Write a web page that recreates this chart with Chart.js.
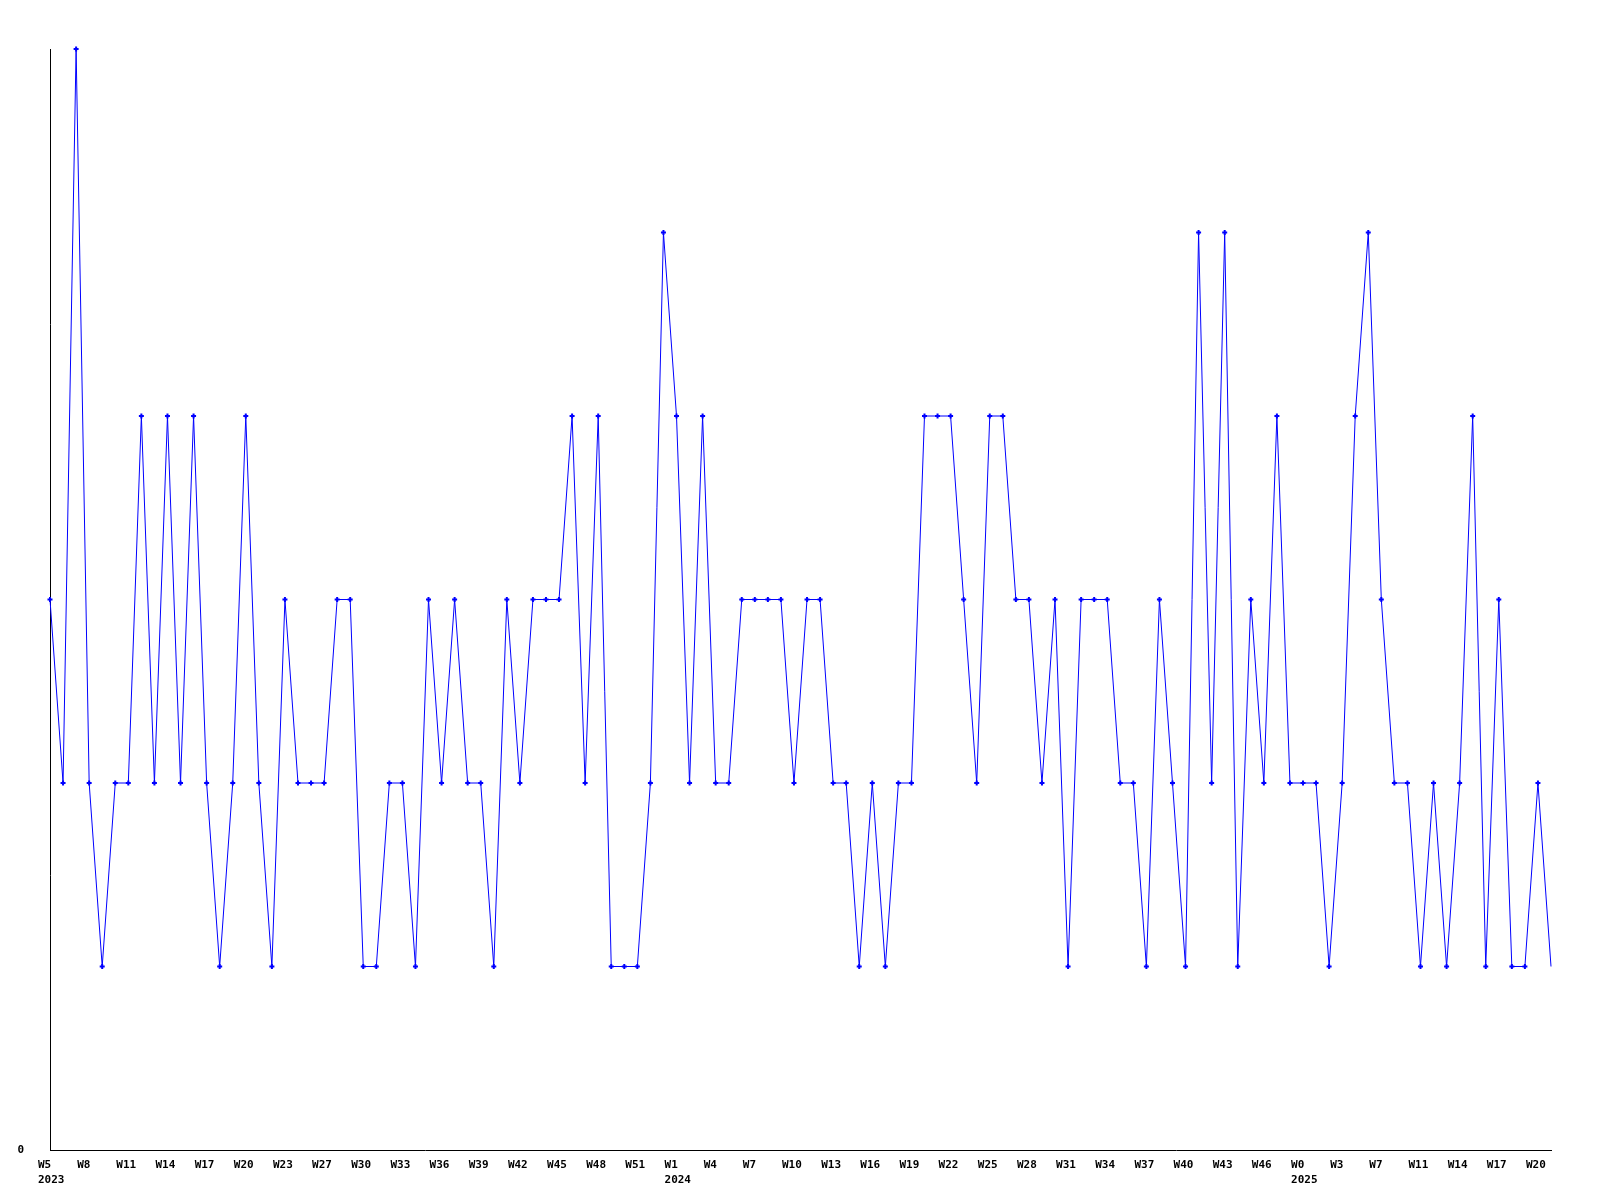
<!DOCTYPE html>
<html>
<head>
<meta charset="utf-8">
<title>Weekly count</title>
<script src="https://cdn.jsdelivr.net/npm/chart.js@4.4.0/dist/chart.umd.min.js"></script>
<style>
  html, body { margin: 0; padding: 0; background: #fff; }
  canvas { display: block; }
</style>
</head>
<body>
<canvas id="weekChart" width="1600" height="1200"></canvas>
<script>
// one value per week, 2023 W5 .. 2025 W21
var weekValues = [
  3, 2, 6, 2, 1, 2, 2, 4, 2, 4, 2, 4, 2, 1, 2, 4, 2, 1, 3, 2,
  2, 2, 3, 3, 1, 1, 2, 2, 1, 3, 2, 3, 2, 2, 1, 3, 2, 3, 3, 3,
  4, 2, 4, 1, 1, 1, 2, 5, 4, 2, 4, 2, 2, 3, 3, 3, 3, 2, 3, 3,
  2, 2, 1, 2, 1, 2, 2, 4, 4, 4, 3, 2, 4, 4, 3, 3, 2, 3, 1, 3,
  3, 3, 2, 2, 1, 3, 2, 1, 5, 2, 5, 1, 3, 2, 4, 2, 2, 2, 1, 2,
  4, 5, 3, 2, 2, 1, 2, 1, 2, 4, 1, 3, 1, 1, 2, 1
];

// labels shown every third week, as printed on the axis
var tickLabels = [
  'W5', 'W8', 'W11', 'W14', 'W17', 'W20', 'W23', 'W27', 'W30', 'W33',
  'W36', 'W39', 'W42', 'W45', 'W48', 'W51', 'W1', 'W4', 'W7', 'W10',
  'W13', 'W16', 'W19', 'W22', 'W25', 'W28', 'W31', 'W34', 'W37', 'W40',
  'W43', 'W46', 'W0', 'W3', 'W7', 'W11', 'W14', 'W17', 'W20'
];
// year printed under the first label of each year (index into tickLabels)
var yearAt = { 0: '2023', 16: '2024', 32: '2025' };
var tickEvery = 3;

var labels = weekValues.map(function (v, i) {
  if (i % tickEvery !== 0) return '';
  var k = i / tickEvery;
  var t = tickLabels[k];
  if (t === undefined) return '';
  return yearAt[k] ? [t, yearAt[k]] : t;
});

var pointRadii = weekValues.map(function (v, i) {
  return i === weekValues.length - 1 ? 0 : 2.5;
});

var tickFont = { family: 'DejaVu Sans Mono', size: 11, weight: 'bold', lineHeight: 1.35 };

var ctx = document.getElementById('weekChart').getContext('2d');
var chart = new Chart(ctx, {
  type: 'line',
  data: {
    labels: labels,
    datasets: [{
      data: weekValues,
      borderColor: '#0000ff',
      backgroundColor: '#0000ff',
      borderWidth: 1,
      tension: 0,
      fill: false,
      clip: false,
      pointStyle: 'cross',
      pointRadius: pointRadii,
      pointBorderWidth: 2,
      pointBorderColor: '#0000ff'
    }]
  },
  options: {
    responsive: false,
    animation: false,
    devicePixelRatio: 1,
    layout: { padding: { top: 49, right: 49, bottom: 0, left: 0 } },
    plugins: {
      legend: { display: false },
      tooltip: { enabled: false }
    },
    scales: {
      x: {
        type: 'category',
        offset: false,
        grid: { display: false, drawTicks: false },
        border: { display: true, color: '#000', width: 1 },
        ticks: {
          autoSkip: false,
          maxRotation: 0,
          minRotation: 0,
          align: 'start',
          labelOffset: -12,
          padding: 8,
          color: '#000',
          font: tickFont
        },
        afterFit: function (scale) { scale.height = 50; }
      },
      y: {
        min: 0,
        max: 6,
        grid: { display: false, drawTicks: false },
        border: { display: true, color: '#000', width: 1 },
        ticks: {
          padding: 26,
          color: '#000',
          font: tickFont
        },
        afterBuildTicks: function (scale) { scale.ticks = [{ value: 0 }]; },
        afterFit: function (scale) { scale.width = 50; }
      }
    }
  }
});
</script>
</body>
</html>
